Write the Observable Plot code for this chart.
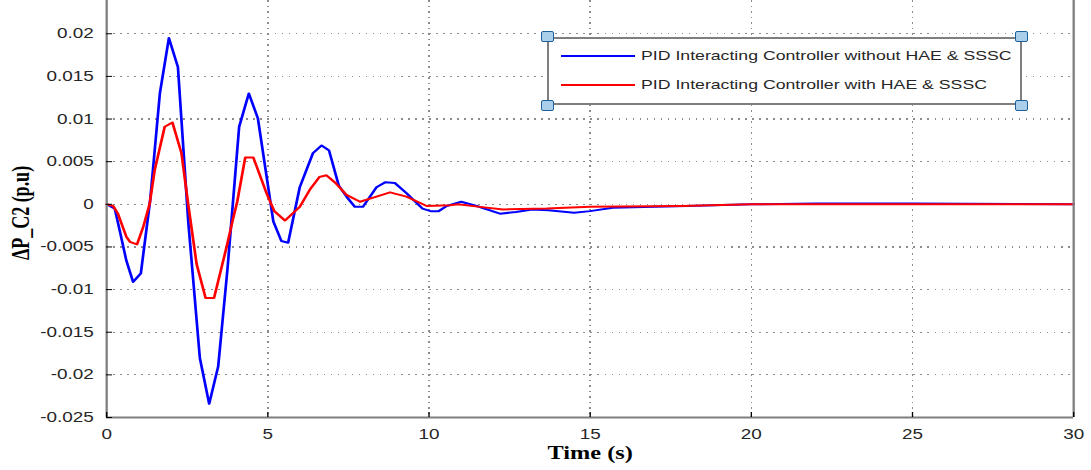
<!DOCTYPE html>
<html>
<head>
<meta charset="utf-8">
<script src="https://cdn.jsdelivr.net/npm/d3@7"></script>
<script src="https://cdn.jsdelivr.net/npm/@observablehq/plot@0.6"></script>
<style>
  body { margin: 0; background: #fff; }
  #wrap { position: relative; width: 1091px; height: 470px; overflow: hidden; background: #fff; }
  #wrap svg { display: block; }
  .legend { position: absolute; left: 547px; top: 37px; width: 475px; height: 68px; box-sizing: border-box;
            border: 2px solid #7f7f7f; background: #fff; }
  .legend .sw { position: absolute; left: 12px; width: 74px; height: 1.6px; }
  .legend .lb { position: absolute; left: 92px; font-family: "Liberation Sans", Arial, sans-serif; font-size: 13.5px;
                line-height: 1; color: #262626; white-space: nowrap; transform-origin: 0 50%; transform: translateY(-50%) scaleX(1.31); }
  .handle { position: absolute; width: 11px; height: 9px; background: #a9cfea; border: 1.5px solid #1f5f99; border-radius: 2px; }
</style>
</head>
<body>
<div id="wrap"></div>
<script>
// ---- data ----
const tBlue = [0, 0.25, 0.4, 0.61, 0.82, 1.06, 1.35, 1.65, 1.93, 2.21, 2.53, 2.89, 3.18, 3.46, 3.75, 4.11, 4.41, 4.69, 5.17, 5.42, 5.63, 5.99, 6.4, 6.67, 6.9, 7.2, 7.44, 7.7, 7.95, 8.37, 8.65, 8.94, 9.3, 9.8, 10.05, 10.3, 10.55, 11.0, 11.48, 12.2, 12.7, 13.2, 13.7, 14.5, 15.0, 15.7, 17, 18, 20, 22, 25, 30];
const vBlue = [0, -0.0005, -0.003, -0.0066, -0.0091, -0.0081, 0.0005, 0.013, 0.0195, 0.0161, -0.002, -0.018, -0.0234, -0.019, -0.0075, 0.0091, 0.013, 0.0101, -0.002, -0.0043, -0.0045, 0.002, 0.006, 0.0069, 0.0063, 0.0022, 0.0009, -0.0003, -0.0003, 0.002, 0.0026, 0.0025, 0.0013, -0.0005, -0.0008, -0.0008, -0.0002, 0.0003, -0.0002, -0.0011, -0.0009, -0.0006, -0.0007, -0.001, -0.0008, -0.0004, -0.0003, -0.0002, 0, 0.0001, 0.0001, 0];

const tRed = [0, 0.2, 0.35, 0.61, 0.72, 0.94, 1.13, 1.33, 1.49, 1.8, 2.04, 2.32, 2.53, 2.79, 3.07, 3.33, 3.72, 3.92, 4.05, 4.3, 4.55, 4.96, 5.2, 5.53, 5.99, 6.3, 6.6, 6.82, 7.1, 7.44, 7.86, 8.37, 8.79, 9.3, 9.93, 10.65, 10.9, 11.58, 12.3, 13.65, 15, 17.8, 20, 25, 30];
const vRed = [0, -0.0002, -0.0011, -0.0038, -0.0044, -0.0047, -0.0027, 0, 0.004, 0.0091, 0.0096, 0.006, 0, -0.007, -0.011, -0.011, -0.005, -0.0017, 0.0003, 0.0055, 0.0055, 0.0013, -0.0008, -0.0019, -0.0003, 0.0017, 0.0032, 0.0034, 0.0025, 0.0011, 0.0003, 0.0009, 0.0014, 0.0009, -0.0002, -0.0001, 0, -0.0003, -0.0006, -0.0005, -0.0003, -0.0002, 0, 0, 0];

const xTicks = [0, 5, 10, 15, 20, 25, 30];
const yTicks = [-0.025, -0.02, -0.015, -0.01, -0.005, 0, 0.005, 0.01, 0.015, 0.02];
const xDomain = [0, 30];
const yDomain = [-0.025, 0.0239];
const seriesNames = ["PID Interacting Controller without HAE & SSSC", "PID Interacting Controller with HAE & SSSC"];
const seriesColors = ["#0000ff", "#ff0000"];
const xLabel = "Time (s)";
const yLabel = "ΔP_C2 (p.u)";

const blue = tBlue.map((t, i) => ({t, v: vBlue[i]}));
const red = tRed.map((t, i) => ({t, v: vRed[i]}));

// the reference is horizontally stretched; draw narrower then stretch the SVG
const OUTW = 1091, S = 1.35, W = Math.round(OUTW / S), SX = OUTW / W;
const fmt = d => String(+d.toFixed(3));

const svg = Plot.plot({
  width: W, height: 470,
  marginLeft: 106 / SX, marginRight: 18 / SX, marginTop: 0, marginBottom: 53,
  style: {fontFamily: "Liberation Sans, Arial, sans-serif", fontSize: "14px", color: "#262626", background: "#fff"},
  x: {domain: xDomain, label: null},
  y: {domain: yDomain, label: null},
  marks: [
    Plot.ruleX(xTicks, {stroke: "#8c8c8c", strokeWidth: 1.2, strokeDasharray: "1.5 4", shapeRendering: "crispEdges"}),
    Plot.ruleY(yTicks, {stroke: "#8c8c8c", strokeWidth: 1.2, strokeDasharray: "1.2 4", shapeRendering: "crispEdges"}),
    Plot.line(blue, {x: "t", y: "v", stroke: seriesColors[0], strokeWidth: 2}),
    Plot.line(red, {x: "t", y: "v", stroke: seriesColors[1], strokeWidth: 2}),
    Plot.ruleX(xDomain, {stroke: "#7f7f7f", strokeWidth: 1.7}),
    Plot.ruleY([yDomain[0]], {stroke: "#7f7f7f", strokeWidth: 2.2}),
    Plot.axisY({ticks: yTicks, tickSize: -4.5, tickFormat: () => "", stroke: "#000", label: null}),
    Plot.axisX({ticks: xTicks, tickSize: -5, tickFormat: () => "", stroke: "#000", label: null}),
    Plot.axisY({ticks: yTicks, tickSize: 0, tickPadding: 9.6, tickFormat: fmt, fill: "#262626", fontSize: 14, label: null}),
    Plot.axisX({ticks: xTicks, tickSize: 0, tickPadding: 12, tickFormat: fmt, fill: "#262626", fontSize: 14, label: null}),
    Plot.text([yLabel], {frameAnchor: "left", textAnchor: "middle", rotate: -90, dx: -63, dy: 4, fontSize: 18, fontWeight: "bold", fontFamily: "Liberation Serif, Times New Roman, serif", fill: "#000"}),
    Plot.text([xLabel], {frameAnchor: "bottom", dy: 41, fontSize: 18, fontWeight: "bold", fontFamily: "Liberation Serif, Times New Roman, serif", fill: "#000"})
  ]
});
svg.setAttribute("width", OUTW);
svg.setAttribute("preserveAspectRatio", "none");
svg.style.width = OUTW + "px";
svg.style.height = "470px";
svg.style.maxWidth = "none";

const wrap = document.getElementById("wrap");
wrap.appendChild(svg);

// legend
const lg = document.createElement("div");
lg.className = "legend";
const rowsY = [17, 46];
seriesNames.forEach((name, i) => {
  const sw = document.createElement("div");
  sw.className = "sw";
  sw.style.top = (rowsY[i] - 0.8) + "px";
  sw.style.background = seriesColors[i];
  lg.appendChild(sw);
  const lb = document.createElement("div");
  lb.className = "lb";
  lb.style.top = rowsY[i] + "px";
  lb.textContent = name;
  lg.appendChild(lb);
});
wrap.appendChild(lg);
[[548, 37], [1022, 37], [548, 105.5], [1022, 105.5]].forEach(([cx, cy]) => {
  const h = document.createElement("div");
  h.className = "handle";
  h.style.left = (cx - 7) + "px";
  h.style.top = (cy - 6) + "px";
  wrap.appendChild(h);
});
</script>
</body>
</html>
